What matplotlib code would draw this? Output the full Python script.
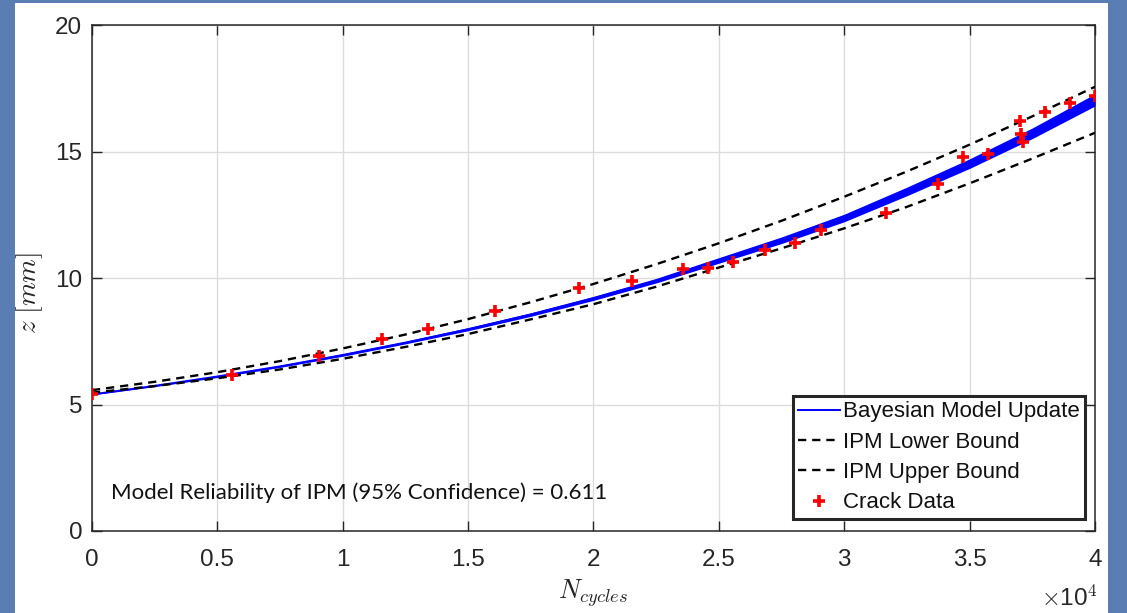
import matplotlib
matplotlib.use("Agg")
import matplotlib.pyplot as plt
import numpy as np
from matplotlib.patches import Rectangle
from matplotlib.ticker import FuncFormatter

# curve samples (cycles) and values
grid_N = [0, 2500, 5000, 7500, 10000, 12500, 15000, 17500, 20000,
          22500, 25000, 27500, 30000, 32500, 35000, 37500, 40000]
bayes_mid = [5.40, 5.74, 6.11, 6.51, 6.96, 7.45, 7.98, 8.56, 9.20,
             9.90, 10.70, 11.50, 12.38, 13.43, 14.53, 15.73, 17.05]
bayes_halfwidth = [0.02, 0.03, 0.04, 0.04, 0.05, 0.05, 0.06, 0.07, 0.08,
                   0.09, 0.11, 0.13, 0.15, 0.17, 0.19, 0.21, 0.24]
ipm_lower = [5.47, 5.73, 6.04, 6.39, 6.81, 7.28, 7.79, 8.37, 8.97,
             9.66, 10.42, 11.18, 11.97, 12.82, 13.75, 14.73, 15.75]
ipm_upper = [5.57, 5.90, 6.28, 6.72, 7.22, 7.77, 8.38, 9.05, 9.77,
             10.55, 11.38, 12.27, 13.22, 14.22, 15.28, 16.40, 17.57]

crack_N = [0, 5570, 9050, 11570, 13390, 16060, 19410, 21540, 23570, 24570,
           25560, 26840, 28040, 29070, 31660, 33740, 34740, 35730, 37010,
           37050, 37130, 38000, 39000, 40000]
crack_z = [5.41, 6.16, 6.91, 7.60, 7.99, 8.69, 9.60, 9.89, 10.36, 10.40,
           10.64, 11.11, 11.39, 11.90, 12.57, 13.72, 14.79, 14.91, 16.21,
           15.70, 15.38, 16.57, 16.92, 17.20]

reliability = 0.611

plt.rcParams["mathtext.fontset"] = "cm"
plt.rcParams["font.family"] = ["Liberation Sans", "DejaVu Sans"]

fig = plt.figure(figsize=(11.27, 6.13), dpi=100, facecolor="#5a7db3")
# white slide panel behind the axes
fig.add_artist(Rectangle((0.0133, 0.0), 0.9700, 0.995, transform=fig.transFigure,
                         facecolor="white", edgecolor="none", zorder=-1))
ax = fig.add_axes([0.0816, 0.1338, 0.8900, 0.8249])
ax.set_facecolor("white")

mid = np.array(bayes_mid)
hw = np.array(bayes_halfwidth)
ax.fill_between(grid_N, mid - hw, mid + hw, color="#0000ff", linewidth=0, zorder=3)
ax.plot(grid_N, bayes_mid, color="#0000ff", lw=1.4, zorder=3,
        label="Bayesian Model Update")
ax.plot(grid_N, ipm_lower, color="black", lw=1.7, ls=(0, (3.5, 2.5)), zorder=4,
        label="IPM Lower Bound")
ax.plot(grid_N, ipm_upper, color="black", lw=1.7, ls=(0, (3.5, 2.5)), zorder=4,
        label="IPM Upper Bound")
ax.plot(crack_N, crack_z, ls="none", marker="+", ms=8, mew=2.6, color="#ff0000",
        zorder=5, label="Crack Data")

ax.set_xlim(0, 40000)
ax.set_ylim(0, 20)
ax.set_xticks(np.arange(0, 40001, 5000))
ax.set_yticks([0, 5, 10, 15, 20])
ax.xaxis.set_major_formatter(FuncFormatter(lambda v, _: f"{v/1e4:g}"))
ax.grid(True, color="#dcdcdc", lw=1.0)
ax.set_axisbelow(True)
ax.tick_params(direction="in", length=7, width=1, top=True, right=True,
               labelsize=17.5, colors="#262626")
ax.tick_params(axis="x", pad=13)
ax.tick_params(axis="y", pad=7)
for s in ax.spines.values():
    s.set_color("#262626")
    s.set_linewidth(1.1)

ax.set_xlabel(r"$N_{cycles}$", fontsize=19, color="#262626", labelpad=4)
ax.set_ylabel(r"$z\ [mm]$", fontsize=19.5, color="#262626")
ax.yaxis.set_label_coords(-0.047, 0.47)
ax.text(1.003, -0.132, r"$\times$10$^4$", transform=ax.transAxes, ha="right",
        va="center", fontsize=17.5, color="#262626")

ax.text(0.019, 0.075, f"Model Reliability of IPM (95% Confidence) = {reliability}",
        transform=ax.transAxes, fontsize=16, family=["Lato", "DejaVu Sans"],
        color="#111111", va="center")

leg = ax.legend(loc="lower right", bbox_to_anchor=(0.990, 0.024), borderaxespad=0,
                fontsize=16, frameon=True, fancybox=False, framealpha=1,
                edgecolor="#262626", handlelength=1.9, handletextpad=0.1,
                labelspacing=0.42, borderpad=0.25, numpoints=1)
leg.get_frame().set_linewidth(2.2)
for t in leg.get_texts():
    t.set_color("#111111")

fig.savefig("out.png", dpi=100, facecolor=fig.get_facecolor())
